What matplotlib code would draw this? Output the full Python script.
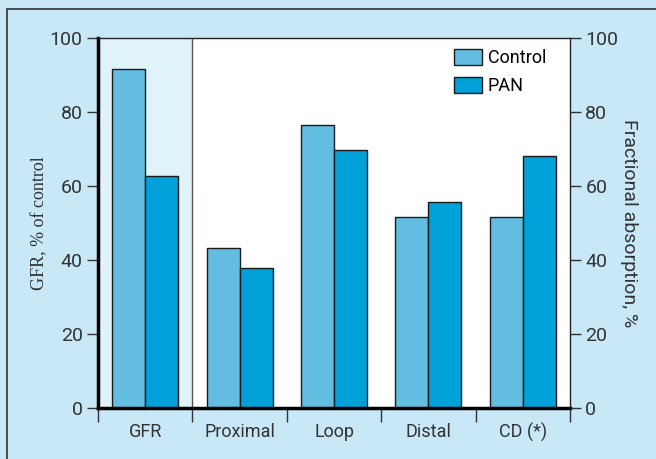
import numpy as np
import matplotlib.pyplot as plt
from matplotlib.patches import Rectangle

categories = ['GFR', 'Proximal', 'Loop', 'Distal', 'CD (*)']
control = [91.6, 43.2, 76.5, 51.6, 51.6]
pan = [62.7, 37.8, 69.7, 55.7, 68.1]

bg = '#c8e8f8'
c_control = '#62bde1'
c_pan = '#00a0d8'

plt.rcParams['font.family'] = ['Roboto', 'DejaVu Sans']

fig = plt.figure(figsize=(6.56, 4.59), dpi=100)
fig.patch.set_facecolor(bg)
# Rahmen um die Abbildung
fig.patches.append(Rectangle((7 / 656, -0.01), 1.0, 1 - 9 / 459 + 0.01,
                             transform=fig.transFigure, fill=False,
                             edgecolor='#333333', lw=1.2))

ax = fig.add_axes([98 / 656, 51 / 459, 472 / 656, 370 / 459])
ax.set_facecolor('white')

x = np.arange(len(categories))
w = 0.35
ax.axvspan(-0.5, 0.5, color='#e0f2fa', zorder=0)
ax.axvline(0.5, color='#555555', lw=1, zorder=1)
ax.bar(x - w / 2, control, w, color=c_control, edgecolor='#1a1a1a', lw=1, label='Control', zorder=2)
ax.bar(x + w / 2, pan, w, color=c_pan, edgecolor='#1a1a1a', lw=1, label='PAN', zorder=2)

ax.set_xlim(-0.5, 4.5)
ax.set_ylim(0, 100)

ax.spines['left'].set_linewidth(2.5)
ax.spines['bottom'].set_linewidth(2.5)
ax.spines['top'].set_linewidth(1)
ax.spines['right'].set_linewidth(1)
for s in ['top', 'right']:
    ax.spines[s].set_color('#222222')

ax.set_yticks([0, 20, 40, 60, 80, 100])
ax.tick_params(axis='y', length=8, width=1, labelsize=14, colors='#333333', pad=3)
ax.set_xticks(np.arange(-0.5, 5, 1))
ax.set_xticklabels([])
ax.set_xticks(x, minor=True)
ax.set_xticklabels(categories, minor=True, fontsize=13, color='#333333')
ax.tick_params(axis='x', which='major', length=10, width=1, direction='out', colors='#333333')
ax.tick_params(axis='x', which='minor', length=0, pad=11, labelcolor='#333333')

ax.set_ylabel('GFR, % of control', family='Liberation Serif', fontsize=13, color='#333333', labelpad=1)

ax2 = ax.twinx()
ax2.set_ylim(0, 100)
ax2.set_yticks([0, 20, 40, 60, 80, 100])
ax2.tick_params(axis='y', length=8, width=1, labelsize=14, colors='#333333', pad=3)
ax2.set_ylabel('Fractional absorption, %', rotation=270, fontsize=14, color='#333333', labelpad=14)
for s in ax2.spines.values():
    s.set_visible(False)

ax.legend(loc='upper right', bbox_to_anchor=(0.984, 1.015), frameon=False, fontsize=13,
          handlelength=1.55, handleheight=1.0, handletextpad=0.35, labelspacing=0.55)

fig.savefig('out.png', dpi=100, facecolor=fig.get_facecolor())
